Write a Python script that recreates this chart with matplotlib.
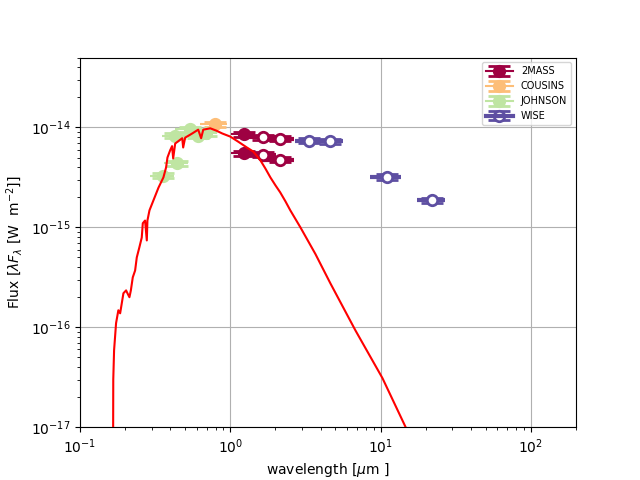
import matplotlib
matplotlib.use("Agg")
import matplotlib.pyplot as plt
from matplotlib.lines import Line2D
from matplotlib.legend_handler import HandlerTuple
import numpy as np

# model spectrum (wavelength in micron, lambda F_lambda in W m^-2)
model_wave = [0.1660, 0.1665, 0.1686, 0.1738, 0.180, 0.185, 0.1945, 0.2027, 0.2069, 0.2133,
              0.218, 0.2245, 0.2327, 0.2387, 0.2483, 0.2576, 0.2618, 0.271, 0.2784, 0.281,
              0.29, 0.308, 0.333, 0.359, 0.374, 0.382, 0.398, 0.41, 0.417, 0.43,
              0.479, 0.486, 0.501, 0.558, 0.612, 0.64, 0.661, 0.736, 0.807, 0.885,
              1.0, 1.13, 1.29, 1.42, 1.585, 1.71, 1.85, 2.0, 2.15, 2.33,
              2.51, 2.93, 3.69, 4.64, 6.81, 10.3, 14.7, 20.0]
model_flux = [5e-18, 3e-17, 5.9e-17, 1.1e-16, 1.48e-16, 1.38e-16, 2.19e-16, 2.34e-16, 2.19e-16, 2.0e-16,
              2.34e-16, 3.16e-16, 3.7e-16, 5.0e-16, 6.3e-16, 7.9e-16, 1.1e-15, 1.17e-15, 7.4e-16, 1.17e-15,
              1.48e-15, 1.86e-15, 2.5e-15, 3.16e-15, 3.98e-15, 5.0e-15, 5.9e-15, 6.5e-15, 4.9e-15, 6.9e-15,
              7.8e-15, 6.3e-15, 7.9e-15, 8.7e-15, 9.5e-15, 7.8e-15, 9.5e-15, 9.8e-15, 9.3e-15, 8.7e-15,
              8.1e-15, 7.2e-15, 6.3e-15, 5.75e-15, 4.7e-15, 3.9e-15, 3.16e-15, 2.63e-15, 2.24e-15, 1.82e-15,
              1.48e-15, 1.0e-15, 5.4e-16, 2.75e-16, 9.3e-17, 3.1e-17, 1.0e-17, 3.9e-18]

# photometry
tmass_wave = [1.235, 1.662, 2.159, 1.235, 1.662, 2.159]
tmass_flux = [8.5e-15, 8.0e-15, 7.7e-15, 5.53e-15, 5.33e-15, 4.75e-15]
tmass_werr = [0.22, 0.35, 0.5, 0.22, 0.35, 0.5]
tmass_used = [True, False, False, True, False, False]

cousins_wave = [0.791]
cousins_flux = [1.08e-14]
cousins_werr = [0.16]
cousins_used = [True]

johnson_wave = [0.357, 0.445, 0.432, 0.539, 0.612, 0.692]
johnson_flux = [3.29e-15, 4.4e-15, 8.26e-15, 9.6e-15, 8.26e-15, 8.77e-15]
johnson_werr = [0.066, 0.08, 0.08, 0.11, 0.12, 0.12]
johnson_used = [True, True, True, True, True, True]

wise_wave = [3.35, 4.6, 11.1, 22.1]
wise_flux = [7.4e-15, 7.3e-15, 3.2e-15, 1.86e-15]
wise_werr = [0.65, 1.05, 2.6, 4.6]
wise_used = [False, False, False, False]

bands = [
    ("2MASS", "#9e0142", tmass_wave, tmass_flux, tmass_werr, tmass_used),
    ("COUSINS", "#fdbe78", cousins_wave, cousins_flux, cousins_werr, cousins_used),
    ("JOHNSON", "#bfe5a2", johnson_wave, johnson_flux, johnson_werr, johnson_used),
    ("WISE", "#5e4fa2", wise_wave, wise_flux, wise_werr, wise_used),
]

fig, ax = plt.subplots(figsize=(6.4, 4.8), dpi=100)

ax.plot(model_wave, model_flux, color="red", lw=1.5, zorder=5)

handles = []
labels = []
for name, col, wave, flux, werr, used in bands:
    wave = np.array(wave)
    flux = np.array(flux)
    werr = np.array(werr)
    used = np.array(used)
    first = None
    for sel, face, lw in [(used, col, 1.5), (~used, "white", 3)]:
        if not sel.any():
            continue
        # horizontal bars (filter width), no caps
        ax.errorbar(wave[sel], flux[sel], xerr=werr[sel], fmt="none",
                    ecolor=col, elinewidth=lw, capsize=0, zorder=2)
        # points with small flux errors and wide caps
        eb = ax.errorbar(wave[sel], flux[sel], yerr=0.06 * flux[sel], fmt="o",
                         color=col, mfc=face, mec=col, ms=7.5, mew=2,
                         ecolor=col, elinewidth=1, capsize=8, capthick=1, zorder=3)
        if first is None:
            first = (eb, Line2D([], [], color=col, lw=lw))
    handles.append(first)
    labels.append(name)

ax.set_xscale("log")
ax.set_yscale("log")
ax.set_xlim(0.1, 200)
ax.set_ylim(1e-17, 5e-14)
ax.grid(True)

ax.set_xlabel(r"wavelength [$\mu$m ]")
ax.set_ylabel(r"Flux [$\lambda F_\lambda$ [W  m$^{-2}$]]")

ax.legend(handles, labels, handler_map={tuple: HandlerTuple(ndivide=1)},
          loc="upper right", fontsize=7, handlelength=2.8)

fig.savefig("out.png", dpi=100)
